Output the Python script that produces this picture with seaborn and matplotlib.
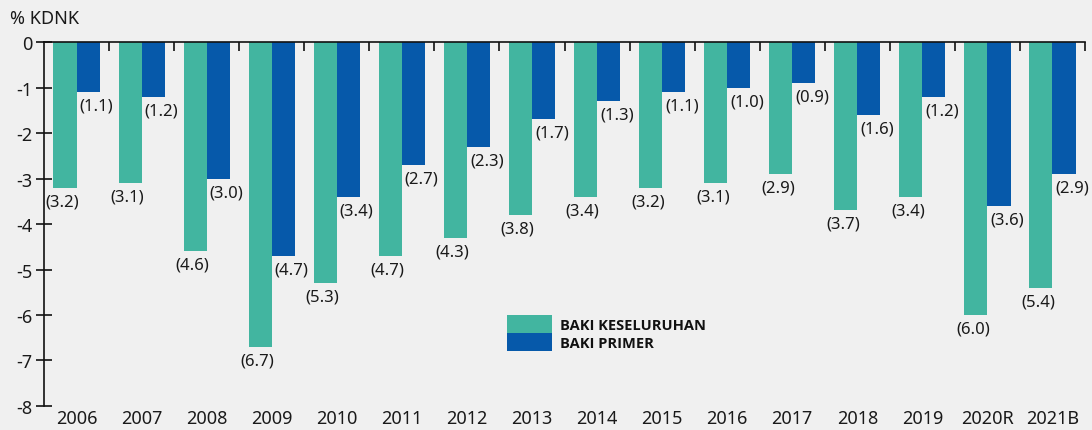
import pandas as pd
import matplotlib.pyplot as plt
import seaborn as sns

years = ['2006', '2007', '2008', '2009', '2010', '2011', '2012', '2013',
         '2014', '2015', '2016', '2017', '2018', '2019', '2020R', '2021B']
baki_keseluruhan = [3.2, 3.1, 4.6, 6.7, 5.3, 4.7, 4.3, 3.8,
                    3.4, 3.2, 3.1, 2.9, 3.7, 3.4, 6.0, 5.4]
baki_primer = [1.1, 1.2, 3.0, 4.7, 3.4, 2.7, 2.3, 1.7,
               1.3, 1.1, 1.0, 0.9, 1.6, 1.2, 3.6, 2.9]
series_names = ['BAKI KESELURUHAN', 'BAKI PRIMER']
colors = ['#42b5a0', '#0659aa']

df = pd.DataFrame({
    'year': years * 2,
    'value': [-v for v in baki_keseluruhan] + [-v for v in baki_primer],
    'series': [series_names[0]] * len(years) + [series_names[1]] * len(years),
})

sns.set_style('ticks')
plt.rcParams['font.family'] = ['Noto Sans', 'DejaVu Sans']
bg = '#f0f0f0'

fig = plt.figure(figsize=(10.92, 4.31), dpi=100, facecolor=bg)
ax = fig.add_axes([0.0403, 0.0557, 0.9533, 0.8445])
ax.set_facecolor(bg)

sns.barplot(data=df, x='year', y='value', hue='series', palette=colors,
            width=0.71, saturation=1, linewidth=0, edgecolor='none', ax=ax)

n = len(years)
ax.set_ylim(-8, 0)
ax.set_xlim(-0.5, n - 0.5)
ax.set_yticks(range(-8, 1))
ax.set_yticklabels([str(v) for v in range(-8, 1)])
ax.set_xlabel('')
ax.set_ylabel('')

for s in ['bottom', 'right']:
    ax.spines[s].set_visible(False)
for s in ['top', 'left']:
    ax.spines[s].set_visible(True)
    ax.spines[s].set_linewidth(1.2)
    ax.spines[s].set_color('#111111')

ax.tick_params(axis='y', which='major', left=True, direction='inout', length=11,
               width=1.2, color='#111111', pad=3, labelsize=13, labelcolor='#1a1a1a')

# boundary ticks on the zero line (major), year labels at the bottom (minor)
ax.set_xticks([i + 0.5 for i in range(n)])
ax.set_xticklabels([''] * n)
ax.tick_params(axis='x', which='major', bottom=False, top=True, direction='in',
               length=6.5, width=1.2, color='#111111', labelbottom=False)
ax.set_xticks(range(n), labels=years, minor=True)
ax.tick_params(axis='x', which='minor', bottom=False, top=False, labelbottom=True,
               length=0, labelsize=13, pad=2, labelcolor='#1a1a1a')

# value labels below bars
for cont, offx in zip(ax.containers, [-2, 6]):
    for bar in cont:
        h = bar.get_height()
        ax.annotate(f'({abs(h):.1f})', (bar.get_x() + bar.get_width() / 2, h),
                    xytext=(offx, -4), textcoords='offset points',
                    ha='center', va='top', fontsize=12, color='#1a1a1a')

leg = ax.legend(loc='upper left', bbox_to_anchor=(0.432, 0.285), frameon=False,
                handlelength=3.1, handleheight=1.45, handletextpad=0.55, labelspacing=0.05,
                prop={'family': 'Open Sans', 'weight': 'bold', 'size': 10.5})
for t in leg.get_texts():
    t.set_color('#111111')

fig.text(0.009, 0.955, '% KDNK', fontsize=13, va='center', ha='left', color='#1a1a1a')

plt.savefig('out.png', dpi=100, facecolor=bg)
